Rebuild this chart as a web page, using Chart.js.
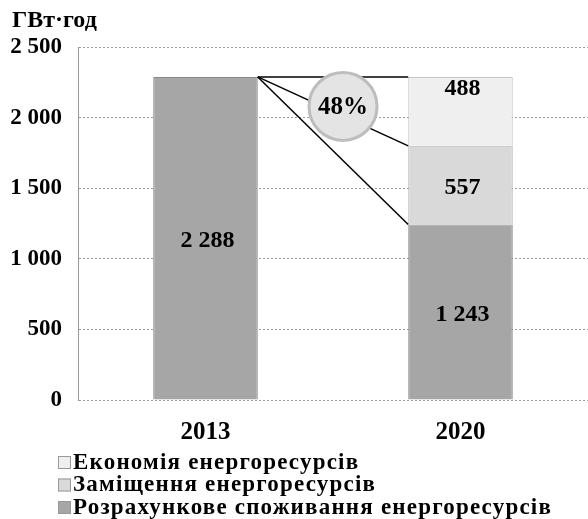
<!DOCTYPE html>
<html>
<head>
<meta charset="utf-8">
<script src="https://cdn.jsdelivr.net/npm/chart.js@4.4.0/dist/chart.umd.min.js"></script>
<style>
  html, body { margin: 0; padding: 0; background: #fff; }
  #wrap { width: 588px; height: 519px; }
</style>
</head>
<body>
<div id="wrap"><canvas id="chart"></canvas></div>
<script>
// chart data
const years = ["2013", "2020"];
const consumption = [2288, 1243];   // Розрахункове споживання
const substitution = [null, 557];   // Заміщення
const saving = [null, 488];         // Економія
const yTicks = [0, 500, 1000, 1500, 2000, 2500];
const unitLabel = "ГВт·год";
const shareLabel = "48%";

const serif = "'Liberation Serif', 'Times New Roman', serif";
const fmt = n => String(n).replace(/\B(?=(\d{3})+(?!\d))/g, " ");

const colDark = "#a6a6a6", colMid = "#d9d9d9", colLight = "#efefef";

// lines, circle, value labels, unit label and legend
const extras = {
  id: "extras",
  afterDatasetsDraw(chart) {
    const ctx = chart.ctx, y = chart.scales.y;
    const b0 = chart.getDatasetMeta(0).data[0];
    const b1 = chart.getDatasetMeta(0).data[1];
    const x0 = b0.x + b0.width / 2;
    const x1 = b1.x - b1.width / 2;
    const top = y.getPixelForValue(consumption[0]);
    const mid = y.getPixelForValue(consumption[1] + substitution[1]);
    const low = y.getPixelForValue(consumption[1]);
    ctx.save();
    ctx.strokeStyle = "#000";
    ctx.lineWidth = 1.5;
    [top, mid, low].forEach(py => {
      ctx.beginPath();
      ctx.moveTo(x0, top);
      ctx.lineTo(x1, py);
      ctx.stroke();
    });
    // circle
    const cx = (x0 + x1) / 2 + 10, cy = (top + mid) / 2 - 5;
    ctx.beginPath();
    ctx.arc(cx, cy, 34, 0, Math.PI * 2);
    ctx.fillStyle = "#e4e4e4";
    ctx.fill();
    ctx.lineWidth = 3;
    ctx.strokeStyle = "#bdbdbd";
    ctx.stroke();
    ctx.fillStyle = "#000";
    ctx.textAlign = "center";
    ctx.textBaseline = "middle";
    ctx.font = "bold 25px " + serif;
    ctx.fillText(shareLabel, cx, cy + 1);

    // value labels
    ctx.font = "bold 24px " + serif;
    chart.data.datasets.forEach((ds, i) => {
      chart.getDatasetMeta(i).data.forEach((el, j) => {
        const v = ds.data[j];
        if (v == null) return;
        let py = (el.y + el.base) / 2 + 3;
        if (i === 2) py = el.y + 12;
        ctx.fillText(fmt(v), el.x + 2, py);
      });
    });

    // unit label
    ctx.textAlign = "left";
    ctx.font = "bold 24px " + serif;
    ctx.fillText(unitLabel, 12, 21);

    // legend (reverse order)
    ctx.font = "bold 23px " + serif;
    ctx.letterSpacing = "1.2px";
    const items = chart.data.datasets.slice().reverse();
    items.forEach((ds, k) => {
      const ly = 462 + k * 22.5;
      ctx.fillStyle = ds.backgroundColor;
      ctx.fillRect(58, ly - 6, 13, 13);
      ctx.strokeStyle = "#999";
      ctx.lineWidth = 1;
      ctx.strokeRect(58.5, ly - 5.5, 12, 12);
      ctx.fillStyle = "#000";
      ctx.fillText(ds.label, 73, ly + 1);
    });
    ctx.restore();
  }
};

new Chart(document.getElementById("chart"), {
  type: "bar",
  data: {
    labels: years,
    datasets: [
      { label: "Розрахункове споживання енергоресурсів", data: consumption,
        backgroundColor: colDark, borderColor: "#8a8a8a", borderWidth: 1 },
      { label: "Заміщення енергоресурсів", data: substitution,
        backgroundColor: colMid, borderColor: "#b5b5b5", borderWidth: 1 },
      { label: "Економія енергоресурсів", data: saving,
        backgroundColor: colLight, borderColor: "#c5c5c5", borderWidth: 1 }
    ]
  },
  options: {
    responsive: true,
    maintainAspectRatio: false,
    animation: false,
    layout: { padding: { top: 47, left: 0, right: 0, bottom: 0 } },
    datasets: { bar: { categoryPercentage: 1, barPercentage: 0.41 } },
    plugins: { legend: { display: false }, tooltip: { enabled: false } },
    scales: {
      x: {
        stacked: true,
        grid: { display: false },
        border: { display: false },
        ticks: { color: "#000", font: { family: serif, size: 25, weight: "bold" }, padding: 10 },
        afterFit: s => { s.height = 119; }
      },
      y: {
        stacked: true,
        min: 0,
        max: 2500,
        afterBuildTicks: s => { s.ticks = yTicks.map(v => ({ value: v })); },
        grid: { color: "#9a9a9a", drawTicks: false, lineWidth: 1 },
        border: { display: true, color: "#9a9a9a", dash: [2, 2] },
        ticks: { color: "#000", font: { family: serif, size: 23, weight: "bold" }, padding: 16,
                 callback: v => fmt(v) },
        afterFit: s => { s.width = 78; }
      }
    }
  },
  plugins: [extras]
});
</script>
</body>
</html>
